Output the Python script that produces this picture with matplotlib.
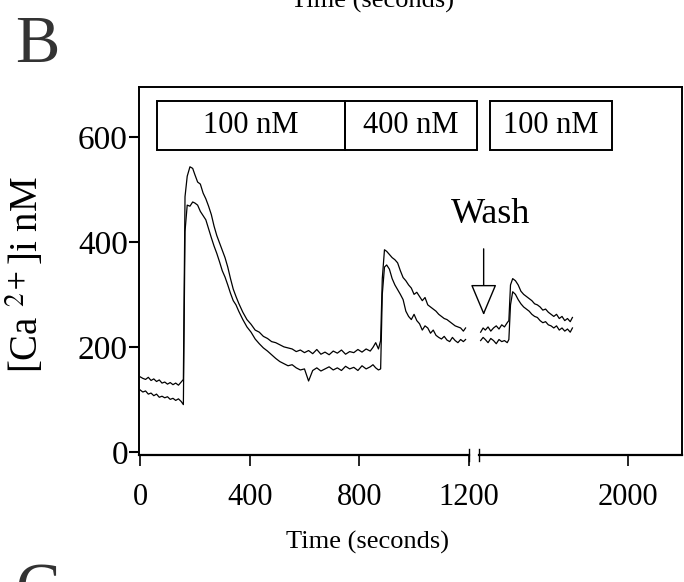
import numpy as np
import matplotlib
import matplotlib.pyplot as plt
from matplotlib.patches import Rectangle

matplotlib.use("Agg")

plt.rcParams["font.family"] = ["Liberation Serif", "DejaVu Serif"]
plt.rcParams["mathtext.fontset"] = "stix"

# first recording stretch (seconds), before the axis break
t_pre = [
    0, 10, 20, 30, 40, 50, 60, 70, 80, 90,
    100, 110, 120, 130, 140, 150, 158, 164, 172, 182,
    192, 200, 210, 220, 230, 240, 250, 260, 270, 280,
    290, 300, 310, 320, 330, 340, 350, 360, 375, 390,
    405, 420, 435, 450, 465, 480, 495, 510, 525, 540,
    555, 570, 585, 600, 615, 630, 645, 660, 675, 690,
    705, 720, 735, 750, 765, 780, 795, 810, 825, 840,
    850, 860, 870, 878, 884, 892, 900, 910, 920, 930,
    940, 950, 960, 970, 980, 990, 1000, 1010, 1020, 1030,
    1040, 1050, 1060, 1070, 1080, 1090, 1100, 1110, 1120, 1130,
    1140, 1150, 1160, 1170, 1180, 1188,
]
ca_upper_pre = [
    143, 140, 138, 142, 136, 139, 134, 137, 131, 133,
    129, 132, 128, 131, 127, 133, 138, 486, 525, 543,
    540, 528, 514, 510, 493, 482, 468, 452, 430, 412,
    398, 384, 370, 352, 330, 310, 296, 283, 266, 252,
    243, 232, 228, 220, 216, 210, 208, 204, 200, 198,
    196, 191, 194, 189, 193, 187, 195, 186, 190, 185,
    192, 188, 194, 186, 191, 189, 195, 190, 196, 192,
    199, 208, 196, 212, 330, 385, 382, 376, 370, 366,
    360, 345, 332, 326, 318, 312, 300, 304, 296, 288,
    294, 280, 276, 272, 268, 262, 258, 254, 252, 248,
    244, 240, 238, 236, 230, 236,
]
ca_lower_pre = [
    118, 114, 116, 110, 112, 107, 110, 104, 106, 103,
    105, 100, 102, 98, 101, 96, 90, 420, 470, 468,
    476, 474, 470, 458, 450, 442, 425, 408, 392, 378,
    362, 345, 333, 318, 302, 288, 280, 268, 252, 238,
    228, 215, 206, 198, 192, 185, 178, 172, 168, 164,
    166, 160, 156, 158, 135, 155, 160, 154, 158, 162,
    156, 160, 155, 163, 158, 161, 155, 164, 158, 162,
    166, 160, 156, 158, 300, 352, 356, 348, 330, 318,
    309, 300, 290, 268, 258, 252, 262, 250, 244, 232,
    240, 236, 226, 232, 222, 218, 215, 220, 213, 210,
    218, 212, 208, 214, 210, 214,
]

# after the wash, past the axis break
t_post = [
    1463, 1472, 1480, 1490, 1500, 1510, 1520, 1530, 1540, 1550,
    1560, 1566, 1572, 1580, 1590, 1600, 1610, 1620, 1630, 1640,
    1650, 1660, 1670, 1680, 1690, 1700, 1710, 1720, 1730, 1740,
    1750, 1760, 1770, 1780, 1790, 1798,
]
ca_upper_post = [
    228, 236, 232, 238, 230, 236, 240, 234, 242, 238,
    246, 250, 318, 330, 326, 318, 306, 300, 296, 292,
    288, 282, 280, 276, 270, 272, 266, 262, 258, 262,
    254, 258, 250, 254, 248, 256,
]
ca_lower_post = [
    212, 218, 214, 208, 216, 212, 206, 214, 210, 212,
    208, 214, 280, 305, 300, 290, 282, 276, 272, 268,
    262, 258, 256, 250, 246, 248, 242, 240, 236, 240,
    232, 236, 230, 234, 228, 236,
]

x_ticks = [0, 400, 800, 1200, 2000]
y_ticks = [0, 200, 400, 600]
dose_labels = ["100 nM", "400 nM", "100 nM"]
wash_time = 1474

# broken time axis: 1200..1456 s squeezed into a small gap
brk_in = [-1e4, 1200, 1456, 1e5]
brk_out = [-1e4, 1200, 1236, 1e5 - 220]


def fwd(t):
    return np.interp(t, brk_in, brk_out)


def inv(u):
    return np.interp(u, brk_out, brk_in)


fig = plt.figure(figsize=(6.84, 5.82), dpi=100)
ax = fig.add_axes([0.2032, 0.2182, 0.7939, 0.6323])
ax.set_xscale("function", functions=(fwd, inv))
ax.set_xlim(-4, 2198)
ax.set_ylim(-6, 695)

for t, up, lo in [(t_pre, ca_upper_pre, ca_lower_pre),
                  (t_post, ca_upper_post, ca_lower_post)]:
    ax.plot(t, up, color="black", lw=0.9)
    ax.plot(t, lo, color="black", lw=0.9)

ax.set_xticks(x_ticks)
ax.set_xticklabels([str(v) for v in x_ticks])
ax.set_yticks(y_ticks)
ax.set_yticklabels([str(v) for v in y_ticks])
ax.tick_params(axis="x", direction="out", length=8, width=1.2, pad=12,
               labelsize=22)
ax.tick_params(axis="y", direction="out", length=7, width=1.5, pad=1,
               labelsize=24)
ax.minorticks_off()

for side in ["left", "top", "right"]:
    ax.spines[side].set_linewidth(1.4)
ax.spines["bottom"].set_visible(False)

# bottom axis drawn in two pieces around the break
xt = ax.get_xaxis_transform()
ax.plot([-4, 1200], [0, 0], color="black", lw=1.6, transform=xt, clip_on=False)
ax.plot([1456, 2198], [0, 0], color="black", lw=1.6, transform=xt, clip_on=False)
for xb in [1200, 1456]:
    ax.plot([xb, xb], [-0.015, 0.015], color="black", lw=1.0, transform=xt,
            clip_on=False)

# dose boxes along the top
box_edges = [(0.033, 0.379), (0.379, 0.622), (0.646, 0.871)]
for (x0, x1), lab in zip(box_edges, dose_labels):
    ax.add_patch(Rectangle((x0, 0.829), x1 - x0, 0.133, transform=ax.transAxes,
                           fill=False, ec="black", lw=1.4, clip_on=False))
    ax.text((x0 + x1) / 2, 0.895, lab, transform=ax.transAxes, ha="center",
            va="center", fontsize=22)

# wash marker
ax.annotate("", xy=(wash_time, 255), xytext=(wash_time, 392),
            arrowprops=dict(arrowstyle="-|>,head_length=1.0,head_width=0.42",
                            mutation_scale=20, fc="white", ec="black", lw=1.0))
ax.text(1500, 453, "Wash", ha="center", va="center", fontsize=26)

ax.set_ylabel("[Ca $^{2+}$]i nM", fontsize=28)
ax.yaxis.set_label_coords(-0.17, 0.49)
ax.set_xlabel("Time (seconds)", fontsize=19)
ax.xaxis.set_label_coords(0.42, -0.205)

# panel letters and the tail of the panel above
fig.text(0.022, 0.975, "B", fontsize=48, va="top", ha="left", color="#333333")
fig.text(0.022, 1 - 563 / 582, "C", fontsize=48, va="top", ha="left",
         color="#333333")
fig.text(0.545, 1 - 8 / 582, "Time (seconds)", fontsize=19, ha="center",
         va="baseline")

fig.savefig("out.png", dpi=100)
